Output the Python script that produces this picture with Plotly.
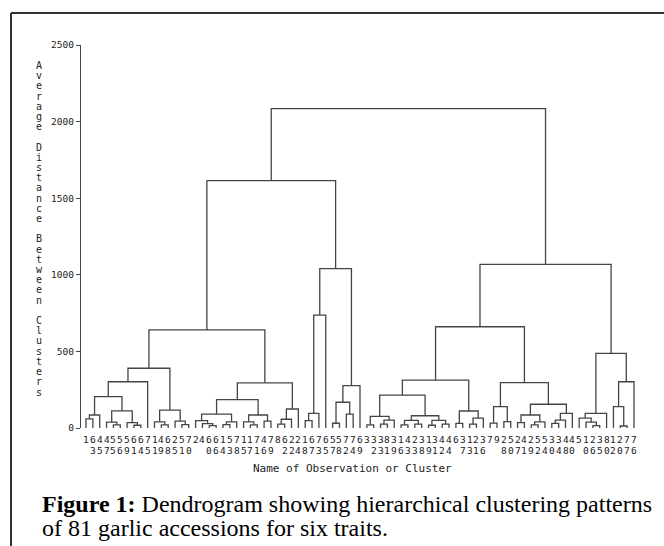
import plotly.graph_objects as go

# ---------------- data ----------------
leaf_labels = [1, 63, 45, 47, 55, 56, 59, 61, 64, 75, 11, 49, 68, 25, 51, 70, 2, 4, 60, 66,
               14, 53, 78, 15, 17, 71, 46, 79, 8, 62, 22, 24, 18, 67, 73, 65, 57, 58, 72, 74,
               69, 3, 32, 33, 81, 39, 16, 43, 23, 38, 19, 31, 42, 44, 6, 37, 13, 21, 36, 7,
               9, 28, 50, 27, 41, 29, 52, 54, 30, 34, 48, 40, 5, 10, 26, 35, 80, 12, 20, 77, 76]

# merges: (name, left child, right child, average distance); int = leaf position
merges = [
    ("a1", 0, 1, 60), ("a2", "a1", 2, 85),
    ("a3", 4, 5, 20), ("a4", 3, "a3", 38),
    ("a5", 7, 8, 18), ("a6", 6, "a5", 35),
    ("a7", "a4", "a6", 112), ("a8", "a2", "a7", 205), ("A", "a8", 9, 302),
    ("b1", 11, 12, 20), ("b2", 10, "b1", 40), ("b3", 14, 15, 22), ("b4", 13, "b3", 45),
    ("B", "b2", "b4", 117), ("AB", "A", "B", 390),
    ("c1", 18, 19, 15), ("c2", 17, "c1", 28), ("c3", 16, "c2", 48),
    ("c4", 20, 21, 22), ("c5", "c4", 22, 40), ("c6", "c3", "c5", 90),
    ("c7", 24, 25, 20), ("c8", 23, "c7", 40), ("c9", 26, 27, 45),
    ("c10", "c8", "c9", 85), ("C", "c6", "c10", 185),
    ("d1", 28, 29, 25), ("d2", "d1", 30, 57), ("D", "d2", 31, 124),
    ("CD", "C", "D", 295), ("L1", "AB", "CD", 640),
    ("e1", 32, 33, 48), ("e2", "e1", 34, 96), ("E", "e2", 35, 737),
    ("f1", 36, 37, 31), ("f2", 38, 39, 91), ("f3", "f1", "f2", 168), ("F", "f3", 40, 276),
    ("EF", "E", "F", 1040), ("L", "L1", "EF", 1615),
    ("g1", 41, 42, 20), ("g2", 43, 44, 25), ("g3", "g2", 45, 52), ("g4", "g1", "g3", 76),
    ("g5", 46, 47, 20), ("g6", 48, 49, 25), ("g7", "g5", "g6", 50),
    ("g8", 50, 51, 18), ("g9", 52, 53, 25), ("g10", "g8", "g9", 50),
    ("g11", "g7", "g10", 80), ("G", "g4", "g11", 215),
    ("h1", 54, 55, 30), ("h2", 56, 57, 25), ("h3", "h2", 58, 65), ("H", "h1", "h3", 111),
    ("GH", "G", "H", 313),
    ("i1", 59, 60, 32), ("i2", 61, 62, 41), ("I", "i1", "i2", 139),
    ("j1", 63, 64, 35), ("j2", 65, 66, 20), ("j3", "j2", 67, 40), ("j4", "j1", "j3", 85),
    ("j5", 68, 69, 30), ("j6", "j5", 70, 52), ("j7", "j6", 71, 96), ("J", "j4", "j7", 155),
    ("IJ", "I", "J", 296), ("GJ", "GH", "IJ", 661),
    ("k1", 74, 75, 15), ("k2", 73, "k1", 38), ("k3", 72, "k2", 65), ("K", "k3", 76, 96),
    ("m1", 78, 79, 13), ("m2", 77, "m1", 139), ("M", "m2", 80, 302),
    ("KM", "K", "M", 487), ("R", "GJ", "KM", 1068),
    ("ROOT", "L", "R", 2085),
]

y_ticks = [0, 500, 1000, 1500, 2000, 2500]
y_title = "Average Distance Between Clusters"
x_title = "Name of Observation or Cluster"
caption1 = "<b>Figure 1:</b> Dendrogram showing hierarchical clustering patterns"
caption2 = "of 81 garlic accessions for six traits."

# ---------------- build dendrogram lines ----------------
pos = {}
xs, ys = [], []


def node(n):
    if isinstance(n, int):
        return n, 0
    return pos[n]


for name, l, r, h in merges:
    xl, hl = node(l)
    xr, hr = node(r)
    xs += [xl, xl, xr, xr, None]
    ys += [hl, h, h, hr, None]
    pos[name] = ((xl + xr) / 2, h)

LINE = "#454545"
TXT = "#222"
SAS_FONT = "DejaVu Sans Mono, Liberation Mono, monospace"
SERIF = "Liberation Serif, Times New Roman, serif"

fig = go.Figure()
fig.add_trace(go.Scatter(x=xs, y=ys, mode="lines",
                         line=dict(color=LINE, width=1.3),
                         hoverinfo="skip", showlegend=False))

# ---------------- layout helpers ----------------
W, H = 664, 546
ML, MR, MT, MB = 81, 14, 45, 118
pw, ph = W - ML - MR, H - MT - MB


def px_x(px):
    return (px - ML) / pw


def px_y(py):
    return (H - MB - py) / ph


ann = []
# leaf labels: digits stacked vertically (SAS style)
for i, v in enumerate(leaf_labels):
    s = str(v)
    for row, ch in enumerate(s):
        ann.append(dict(text=ch, x=i, y=px_y(439 + row * 11), xref="x", yref="paper",
                        showarrow=False, xanchor="center", yanchor="middle",
                        font=dict(family=SAS_FONT, size=9.5, color=TXT)))

# vertical stacked y-axis title
n = len(y_title)
for k, ch in enumerate(y_title):
    if ch == " ":
        continue
    ann.append(dict(text=ch, x=px_x(39), y=px_y(65.5 + k * (392 - 65.5) / (n - 1)),
                    xref="paper", yref="paper", showarrow=False,
                    xanchor="center", yanchor="middle",
                    font=dict(family=SAS_FONT, size=10, color=TXT)))
ann.append(dict(text=x_title, x=px_x(352), y=px_y(468), xref="paper", yref="paper",
                showarrow=False, xanchor="center", yanchor="middle",
                font=dict(family=SAS_FONT, size=11, color=TXT)))
ann.append(dict(text=caption1, x=px_x(40), y=px_y(504), xref="paper", yref="paper",
                showarrow=False, xanchor="left", yanchor="middle",
                font=dict(family=SERIF, size=24, color="#000")))
ann.append(dict(text=caption2, x=px_x(40), y=px_y(528), xref="paper", yref="paper",
                showarrow=False, xanchor="left", yanchor="middle",
                font=dict(family=SERIF, size=24, color="#000")))

shapes = [
    dict(type="line", xref="paper", yref="paper", x0=px_x(11), x1=px_x(W + 5),
         y0=px_y(13), y1=px_y(13), line=dict(color="#333", width=2)),
    dict(type="line", xref="paper", yref="paper", x0=px_x(11), x1=px_x(11),
         y0=px_y(13), y1=px_y(H + 5), line=dict(color="#333", width=2)),
]

x0_px, x80_px = 86, 634
scale = (x80_px - x0_px) / 80
xmin = -(x0_px - ML) / scale
xmax = xmin + pw / scale

fig.update_layout(
    width=W, height=H,
    margin=dict(l=ML, r=MR, t=MT, b=MB, pad=0),
    paper_bgcolor="white", plot_bgcolor="white",
    xaxis=dict(range=[xmin, xmax], visible=False, fixedrange=True),
    yaxis=dict(range=[0, 2500], showgrid=False, zeroline=False, fixedrange=True,
               showline=True, linecolor=LINE, linewidth=1.3,
               ticks="outside", ticklen=4, tickwidth=1.3, tickcolor=LINE,
               tickvals=y_ticks, ticktext=[str(v) for v in y_ticks],
               tickfont=dict(family=SAS_FONT, size=9.5, color=TXT)),
    annotations=ann, shapes=shapes, showlegend=False,
)

fig.write_html("out.html", config={"displayModeBar": False},
               post_script="document.body.style.margin='0';")
